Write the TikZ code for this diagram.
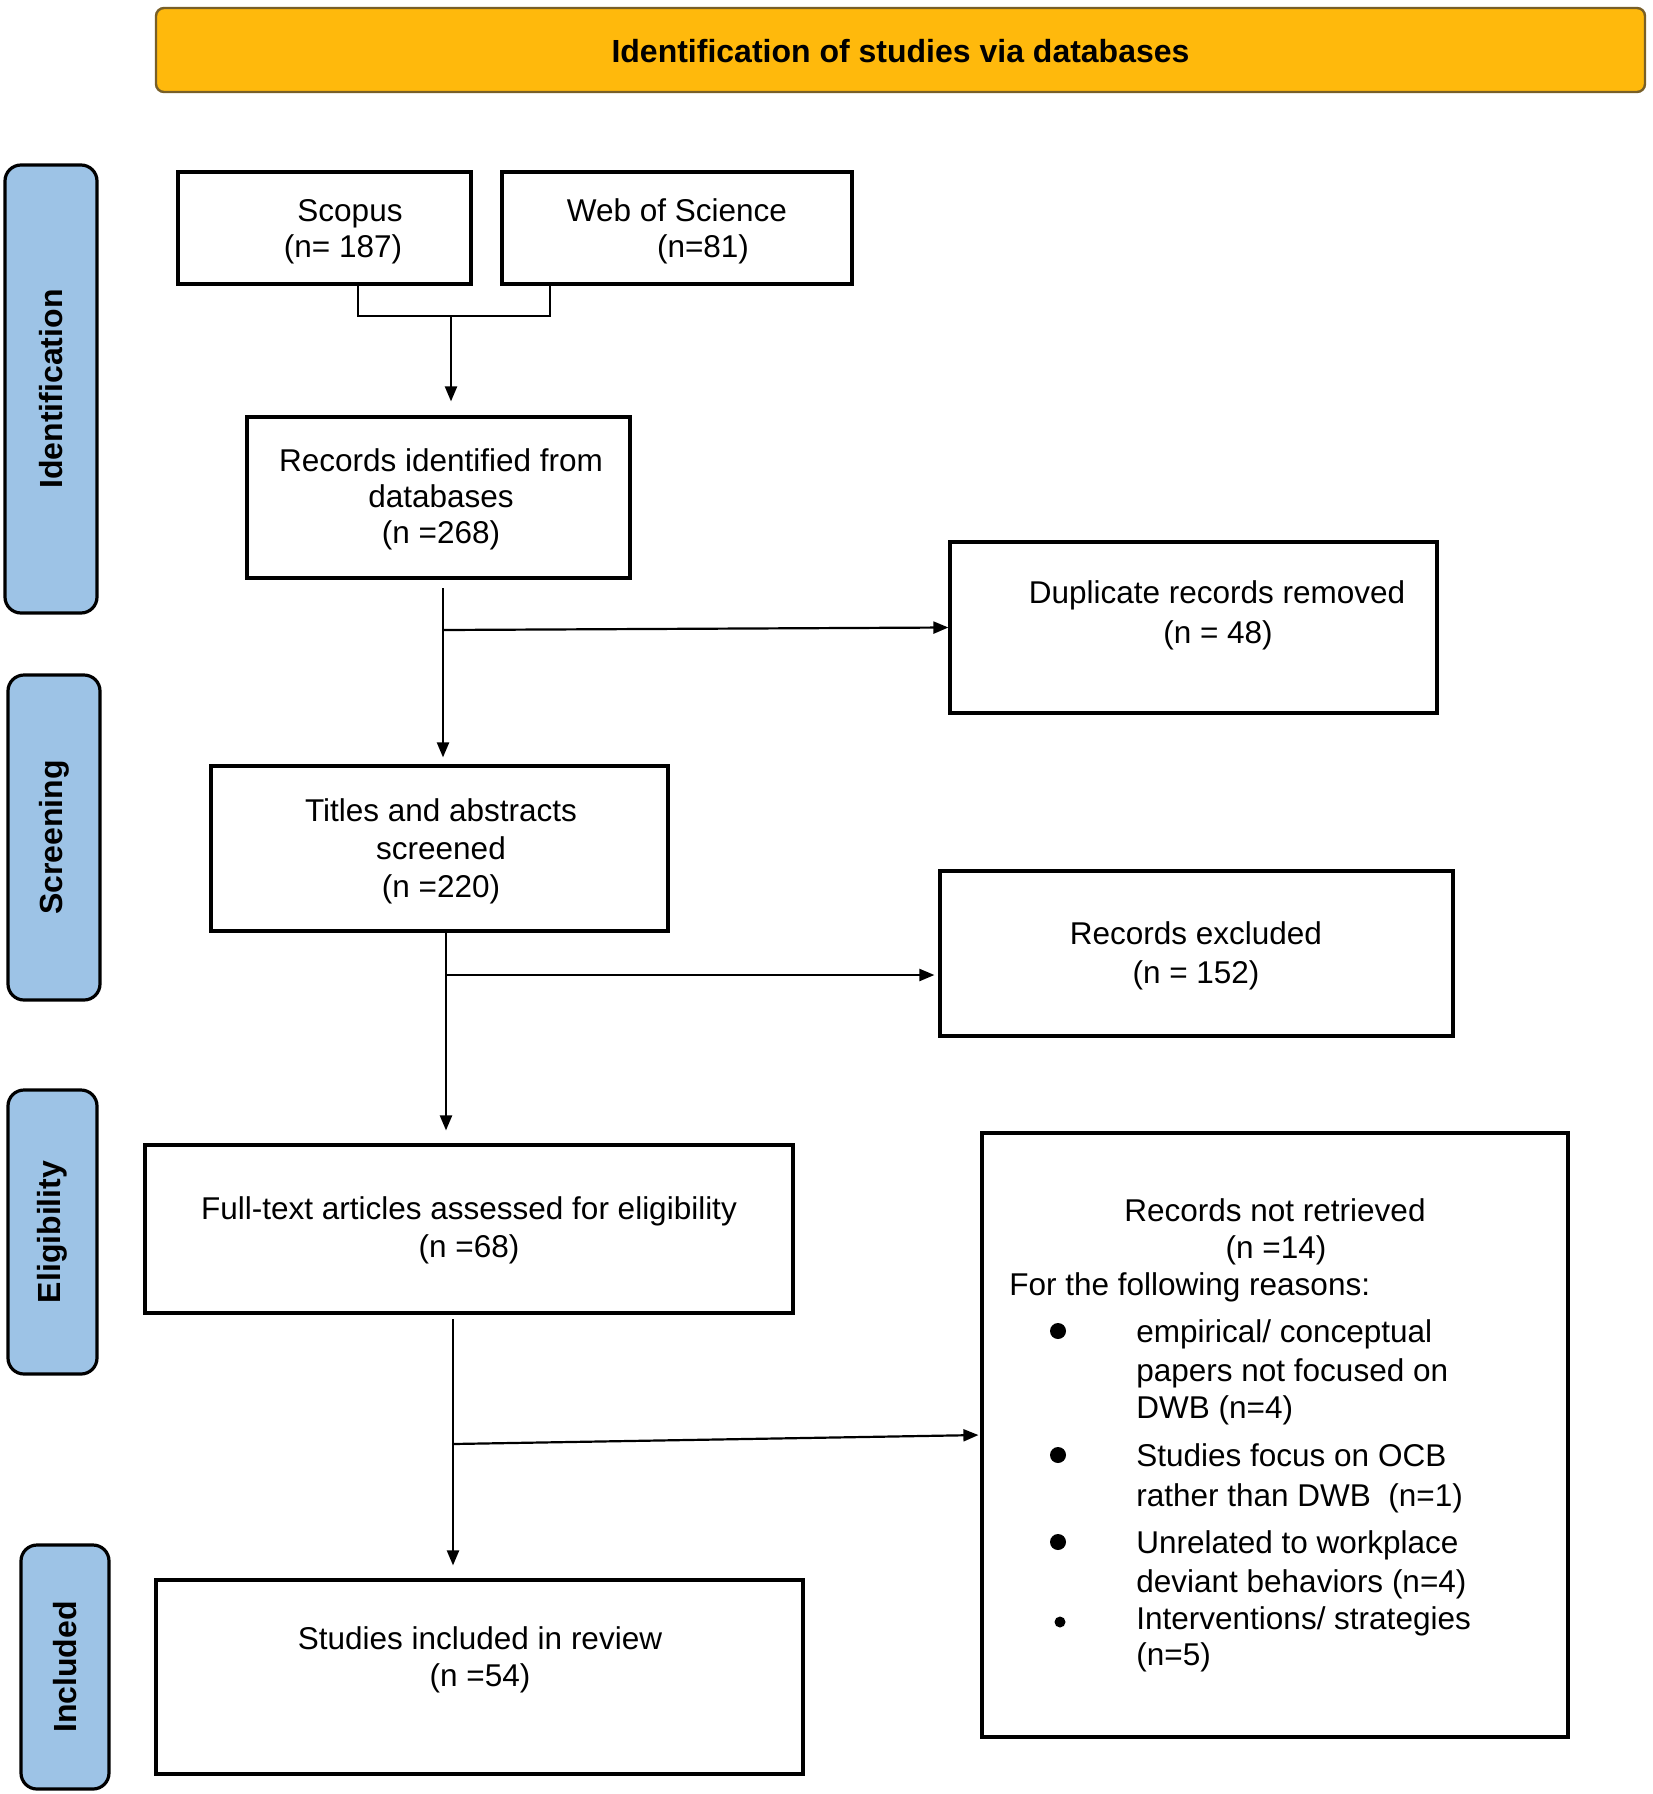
\documentclass[tikz,border=0pt]{standalone}
\usepackage{fontspec}
\setmainfont{Liberation Sans}
\usetikzlibrary{arrows.meta}
\definecolor{bannerfill}{RGB}{255,185,12}
\definecolor{bannerdraw}{RGB}{120,95,40}
\definecolor{tabfill}{RGB}{157,195,230}
\begin{document}
\begin{tikzpicture}[x=0.5pt,y=-0.5pt,
  box/.style={draw=black, line width=1.6pt, inner sep=0pt, fill=white},
  tab/.style={draw=black, line width=1.6pt, rounded corners=8pt, fill=tabfill, inner sep=0pt},
  banner/.style={draw=bannerdraw, line width=1.2pt, rounded corners=4pt, fill=bannerfill, inner sep=0pt},
  txt/.style={anchor=base, inner sep=0pt, font=\fontsize{15.75}{19}\selectfont},
  ltxt/.style={txt, anchor=base west},
  tabtxt/.style={rotate=90, inner sep=0pt, font=\bfseries\fontsize{16}{19}\selectfont},
  conn/.style={line width=1.1pt},
  arr/.style={conn, -{Triangle[length=7.5pt,width=6pt]}},
  bulletdot/.style={circle, fill=black, inner sep=0pt, minimum size=8pt}
]
\useasboundingbox (0,0) rectangle (1653,1794);

% banner
\node[banner, minimum width=744.5pt, minimum height=42pt] (banner) at (900.5,50) {};
\node[anchor=base, inner sep=0pt, font=\bfseries\fontsize{16}{19}\selectfont] (bannert) at (900.5,62) {Identification of studies via databases};

% side tabs
\node[tab, minimum width=46pt, minimum height=224pt] (tabI) at (51,389) {};
\node[tabtxt] (tabIt) at (51,389) {Identification};
\node[tab, minimum width=46pt, minimum height=162.5pt] (tabS) at (54,837.5) {};
\node[tabtxt] (tabSt) at (54,837.5) {Screening};
\node[tab, minimum width=44.5pt, minimum height=142pt] (tabE) at (52.5,1232) {};
\node[tabtxt] (tabEt) at (52.5,1232) {Eligibility};
\node[tab, minimum width=44pt, minimum height=122pt] (tabN) at (65,1667) {};
\node[tabtxt] (tabNt) at (65,1667) {Included};

% boxes
\node[box, minimum width=146.5pt, minimum height=56pt] (scopus) at (324.5,228) {};
\node[box, minimum width=175pt, minimum height=56pt] (wos) at (677,228) {};
\node[box, minimum width=191.5pt, minimum height=80.5pt] (rec) at (438.5,497.5) {};
\node[box, minimum width=243.5pt, minimum height=85.5pt] (dup) at (1193.5,627.5) {};
\node[box, minimum width=228.5pt, minimum height=82.5pt] (tit) at (439.5,848.5) {};
\node[box, minimum width=256.5pt, minimum height=82.5pt] (excl) at (1196.5,953.5) {};
\node[box, minimum width=324pt, minimum height=84pt] (full) at (469,1229) {};
\node[box, minimum width=293pt, minimum height=302pt] (notret) at (1275,1435) {};
\node[box, minimum width=323.5pt, minimum height=97pt] (incl) at (479.5,1677) {};

% texts
\node[txt] (scopus1) at (350,221) {Scopus};
\node[txt] (scopus2) at (343,257) {(n= 187)};
\node[txt] (wos1) at (677,221) {Web of Science};
\node[txt] (wos2) at (703,257) {(n=81)};
\node[txt] (rec1) at (441,471) {Records identified from};
\node[txt] (rec2) at (441,507) {databases};
\node[txt] (rec3) at (441,543) {(n =268)};
\node[txt] (dup1) at (1217,603) {Duplicate records removed};
\node[txt] (dup2) at (1218,643) {(n = 48)};
\node[txt] (tit1) at (441,821) {Titles and abstracts};
\node[txt] (tit2) at (441,859) {screened};
\node[txt] (tit3) at (441,897) {(n =220)};
\node[txt] (excl1) at (1196,944) {Records excluded};
\node[txt] (excl2) at (1196,983) {(n = 152)};
\node[txt] (full1) at (469,1219) {Full-text articles assessed for eligibility};
\node[txt] (full2) at (469,1257) {(n =68)};
\node[txt] (incl1) at (480,1649) {Studies included in review};
\node[txt] (incl2) at (480,1686) {(n =54)};

\node[txt] (nr1) at (1275,1221) {Records not retrieved};
\node[txt] (nr2) at (1276,1258) {(n =14)};
\node[ltxt] (nr3) at (1009,1295) {For the following reasons:};
\node[bulletdot] (b1) at (1058,1331) {};
\node[ltxt] (nr4) at (1136,1342) {empirical/ conceptual};
\node[ltxt] (nr5) at (1136,1381) {papers not focused on};
\node[ltxt] (nr6) at (1136,1418) {DWB (n=4)};
\node[bulletdot] (b2) at (1058,1455) {};
\node[ltxt] (nr7) at (1136,1466) {Studies focus on OCB};
\node[ltxt] (nr8) at (1136,1506) {rather than DWB\ \ (n=1)};
\node[bulletdot] (b3) at (1058,1542) {};
\node[ltxt] (nr9) at (1136,1553) {Unrelated to workplace};
\node[ltxt] (nr10) at (1136,1592) {deviant behaviors (n=4)};
\node[bulletdot, minimum size=5.5pt] (b4) at (1060,1622) {};
\node[ltxt] (nr11) at (1136,1629) {Interventions/ strategies};
\node[ltxt] (nr12) at (1136,1665) {(n=5)};

% connectors
\coordinate (bl) at (358,316);
\coordinate (br) at (550,316);
\coordinate (bm) at (451,316);
\draw[conn] (scopus.south -| bl) -- (bl) -- (br) -- (wos.south -| br);
\draw[arr, shorten >=7pt] (bm) -- (bm |- rec.north);

\coordinate (t1) at (443,588);
\coordinate (j1) at (443,630);
\draw[arr, shorten >=3.5pt] (t1) -- (t1 |- tit.north);
\draw[arr] (j1) -- (dup.west);

\coordinate (t2) at (446,931);
\coordinate (j2) at (446,975);
\draw[arr, shorten >=6.5pt] (t2) -- (t2 |- full.north);
\draw[arr, shorten >=2pt] (j2) -- (j2 -| excl.west);

\coordinate (t3) at (453,1319);
\coordinate (j3) at (453,1444);
\draw[arr, shorten >=6.5pt] (t3) -- (t3 |- incl.north);
\draw[arr, shorten >=1pt] (j3) -- (notret.west);
\end{tikzpicture}
\end{document}
